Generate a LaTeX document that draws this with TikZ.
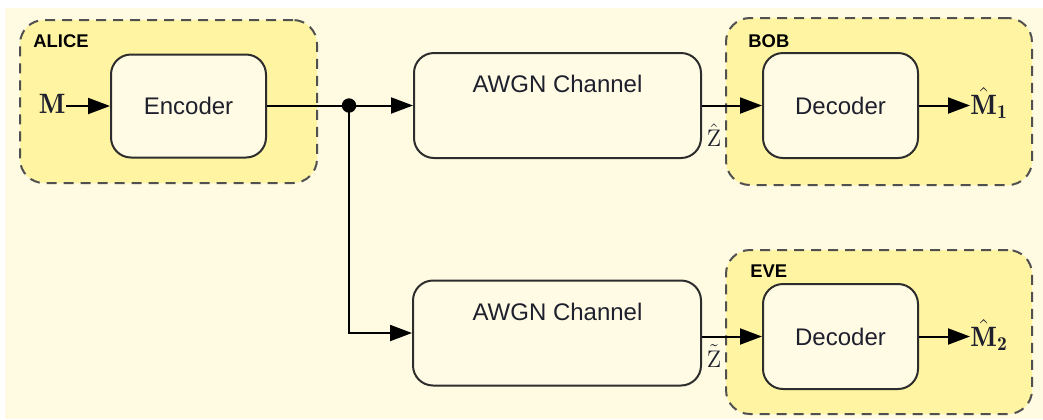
\documentclass[tikz,border=0pt]{standalone}
\usepackage{fontspec}
\newfontfamily\arial{Liberation Sans}
\usetikzlibrary{arrows.meta}
\definecolor{bgcream}{RGB}{254,251,226}
\definecolor{grpyellow}{RGB}{255,244,162}
\definecolor{blockfill}{RGB}{255,251,228}
\definecolor{edgegray}{RGB}{45,45,45}
\definecolor{dashgray}{RGB}{80,80,80}
\definecolor{txt}{RGB}{30,32,45}
\tikzset{
  grp/.style={draw=dashgray, line width=1pt, dash pattern=on 5pt off 3.5pt, fill=grpyellow, rounded corners=12pt, inner sep=0pt},
  grplabel/.style={font=\arial\bfseries\fontsize{9.2}{10}\selectfont, text=black, anchor=west, inner sep=0pt},
  block/.style={draw=edgegray, line width=1pt, fill=blockfill, rounded corners=10pt, inner sep=0pt, font=\arial\fontsize{12}{14}\selectfont, text=txt},
  blocktext/.style={inner sep=0pt, font=\arial\fontsize{12}{14}\selectfont, text=txt},
  conn/.style={line width=1pt, draw=black},
  arr/.style={conn, -{Triangle[length=11pt,width=8pt]}},
  sym/.style={inner sep=0pt, font=\fontsize{14}{16}\selectfont, text=txt},
  zlab/.style={inner sep=0pt, font=\fontsize{12}{14}\selectfont, text=txt}
}
\begin{document}
\begin{tikzpicture}[x=0.5pt,y=-0.5pt]
\useasboundingbox (0,0) rectangle (1043,419);
\fill[white] (0,0) rectangle (1043,419);
\fill[bgcream] (5,8) rectangle (1043,419);
% groups
\node[grp, minimum width=148.5pt, minimum height=81.5pt] (alice) at (168.5,101.5) {};
\node[grp, minimum width=153pt, minimum height=83.5pt] (bob) at (879,101.5) {};
\node[grp, minimum width=153pt, minimum height=82pt] (eve) at (879,332) {};
\node[grplabel] (alicel) at (33,41) {ALICE};
\node[grplabel] (bobl) at (748,41) {BOB};
\node[grplabel] (evel) at (750,271) {EVE};
% blocks
\node[block, minimum width=77.5pt, minimum height=51.5pt] (enc) at (188.5,106) {Encoder};
\node[block, minimum width=143.5pt, minimum height=52.5pt] (ch1) at (557.5,105.5) {};
\node[block, minimum width=144pt, minimum height=52.5pt] (ch2) at (557,333) {};
\node[blocktext] (ch1t) at (557.5,84) {AWGN Channel};
\node[blocktext] (ch2t) at (557.5,312) {AWGN Channel};
\node[block, minimum width=77.5pt, minimum height=52.5pt] (dec1) at (840.5,105.5) {Decoder};
\node[block, minimum width=77.5pt, minimum height=52.5pt] (dec2) at (840.5,336.5) {Decoder};
% symbols
\node[sym, anchor=east] (m) at (66,104) {$\mathbf{M}$};
\node[sym, anchor=west] (m1) at (970,103) {$\hat{\mathbf{M}}_{\mathbf{1}}$};
\node[sym, anchor=west] (m2) at (970,335) {$\hat{\mathbf{M}}_{\mathbf{2}}$};
\node[zlab] (zhat) at (714,135) {$\hat{\mathrm{Z}}$};
\node[zlab] (ztil) at (714,356) {$\tilde{\mathrm{Z}}$};
% junction
\coordinate (j) at (349,105.5);
\fill (j) circle (3.6pt);
% connectors
\draw[arr] (m.east |- enc.west) -- (enc.west);
\draw[conn] (enc.east |- j) -- (j);
\draw[arr] (j) -- (ch1.west |- j);
\draw[arr] (j) |- (ch2.west);
\draw[arr] (ch1.east) -- (dec1.west);
\draw[arr] (ch2.east |- dec2.west) -- (dec2.west);
\draw[arr] (dec1.east) -- (m1.west |- dec1.east);
\draw[arr] (dec2.east) -- (m2.west |- dec2.east);
\end{tikzpicture}
\end{document}
